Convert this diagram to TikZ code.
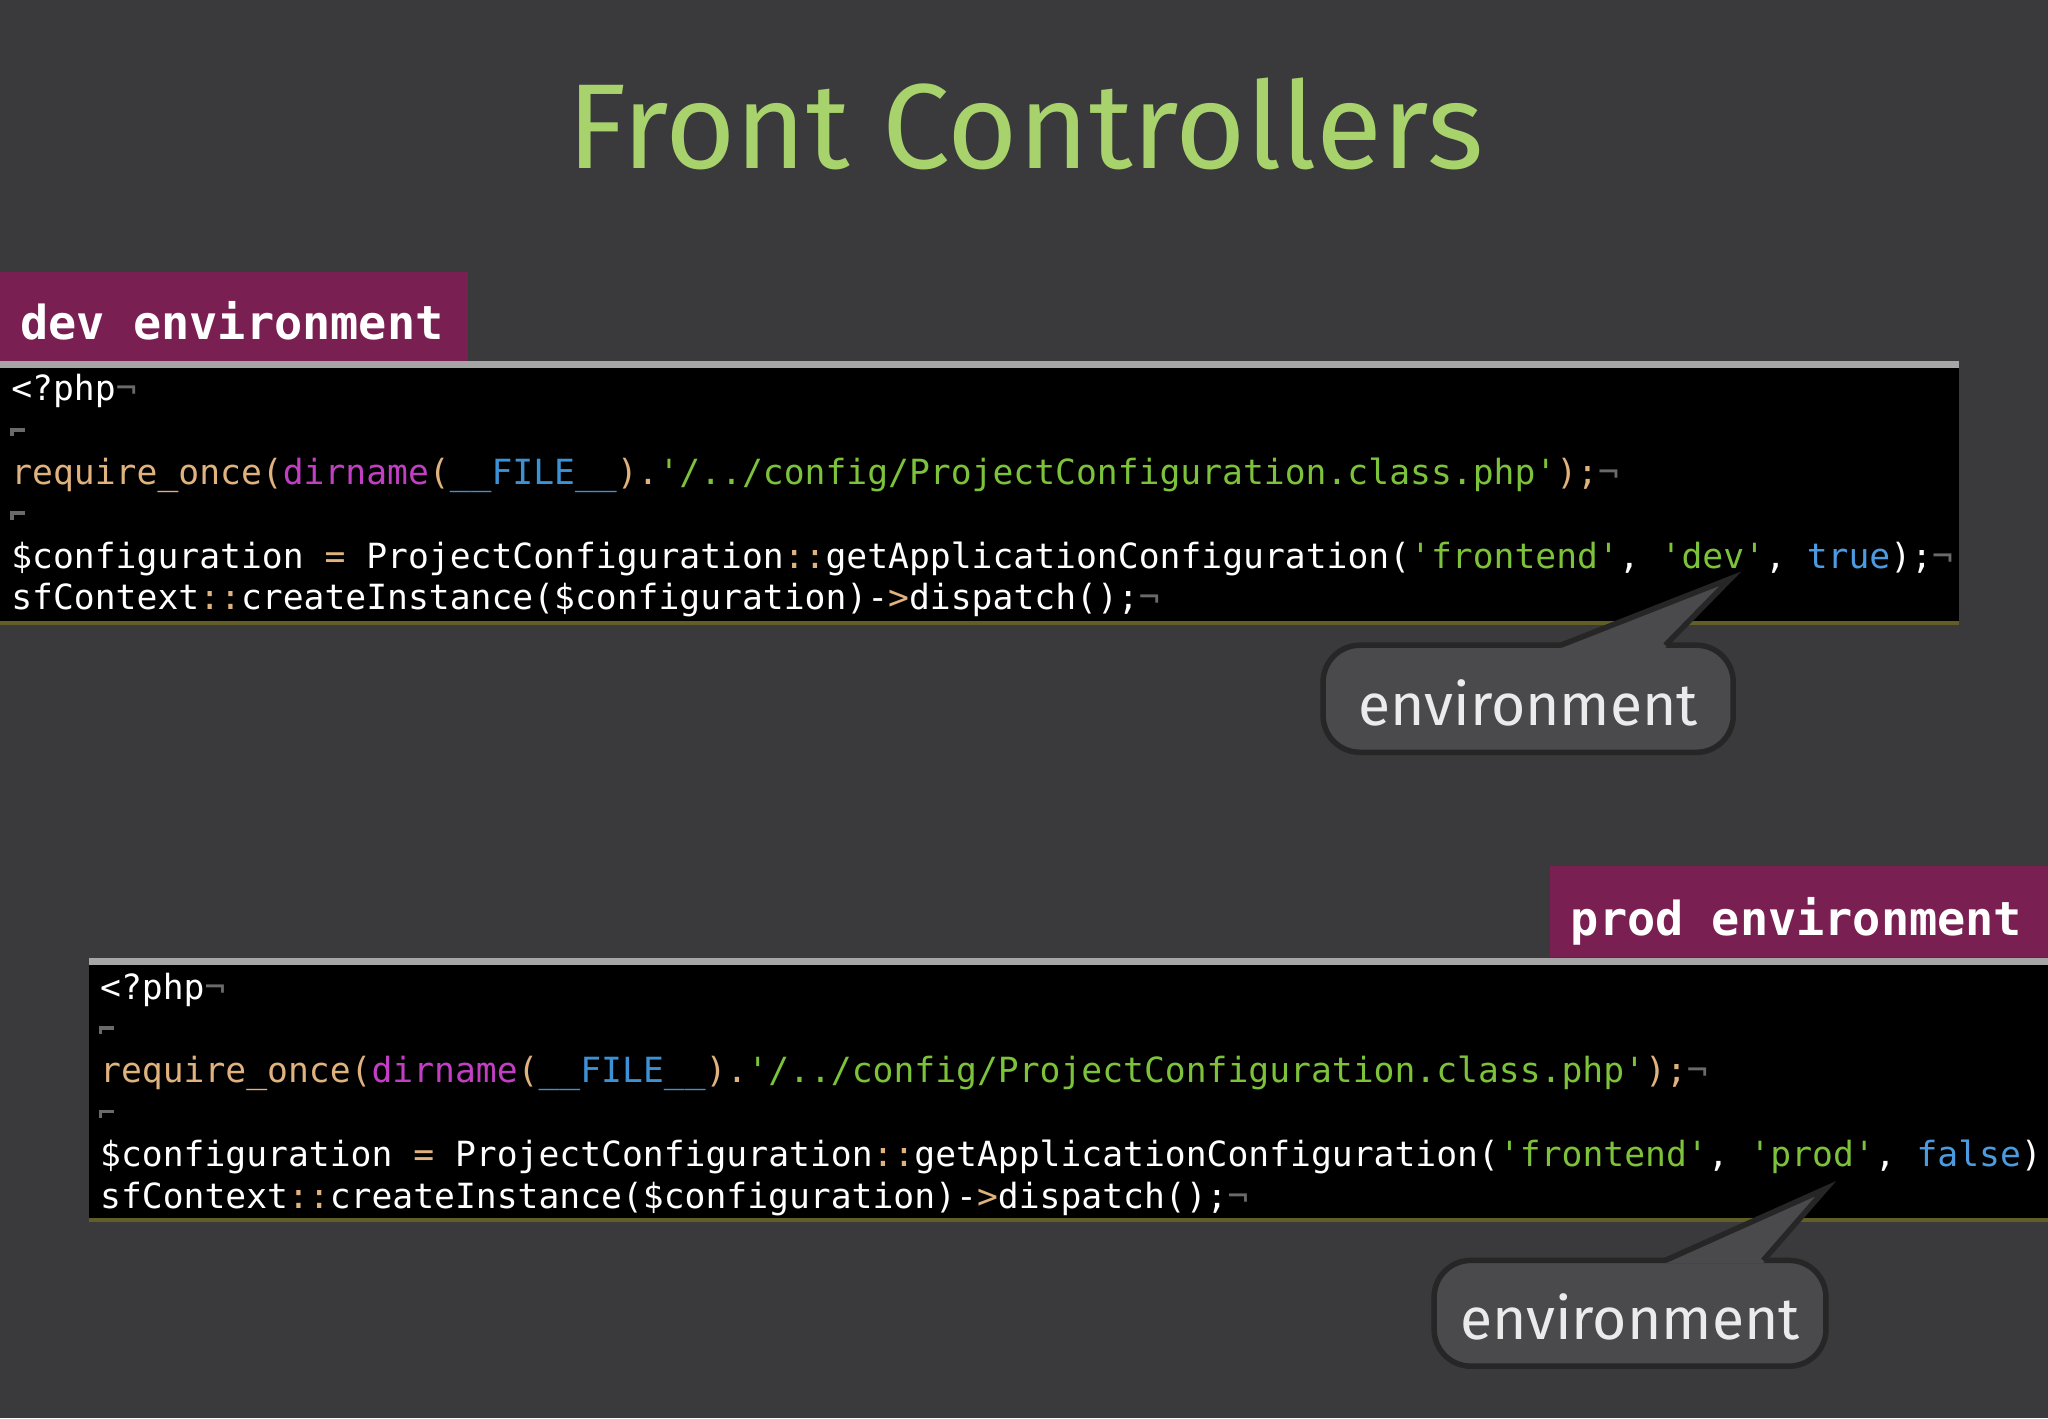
\documentclass[tikz,border=0pt]{standalone}
\usepackage{fontspec}
\setmainfont{Fira Sans}
\setmonofont{DejaVu Sans Mono}
\definecolor{bgc}{HTML}{3A3A3C}
\definecolor{titlec}{HTML}{A8D26C}
\definecolor{tagc}{HTML}{7A1F52}
\definecolor{kwc}{HTML}{E0B27E}
\definecolor{fnc}{HTML}{C23FC4}
\definecolor{cnc}{HTML}{3C92D6}
\definecolor{stc}{HTML}{7CC23A}
\definecolor{blc}{HTML}{4C9BE0}
\definecolor{markc}{HTML}{6A6A6A}
\definecolor{calloutc}{HTML}{4A4A4D}
\newcommand{\kw}[1]{\textcolor{kwc}{#1}}
\newcommand{\fn}[1]{\textcolor{fnc}{#1}}
\newcommand{\cn}[1]{\textcolor{cnc}{#1}}
\newcommand{\st}[1]{\textcolor{stc}{#1}}
\newcommand{\bl}[1]{\textcolor{blc}{#1}}
\newcommand{\eol}{\textcolor{markc}{¬}}
\begin{document}
\begin{tikzpicture}[x=0.01cm, y=-0.01cm,
    tag/.style={fill=tagc, text=white, font=\ttfamily\bfseries\fontsize{10.2}{12}\selectfont, inner sep=0pt, anchor=base west},
    codebox/.style={fill=black},
    codeline/.style={text=white, font=\ttfamily\fontsize{7.55}{9}\selectfont, inner sep=0pt, anchor=base west},
    callout/.style={fill=calloutc, draw=black!85, line width=1.2pt, rounded corners=8pt},
    callouttext/.style={text=white!92!black, font=\fontsize{12.8}{15}\selectfont}]
  \fill[bgc] (0,0) rectangle (1568,1086);
  \useasboundingbox (0,0) rectangle (1568,1086);
  \node[text=titlec, font=\fontsize{26.3}{32}\selectfont] (title) at (785,95) {Front Controllers};
  % dev environment
  \fill[tagc] (0,208) rectangle (358,277);
  \node[tag] (devtag) at (15,260) {dev environment};
  \fill[codebox] (0,278) rectangle (1500,478);
  \draw[gray!70, line width=1.5pt] (0,279) -- (1500,279);
  \draw[olive!60!black, line width=1pt] (0,477) -- (1500,477);
  \node[codeline] (d1) at (8,307) {<?php\eol};
  \node[codeline] (d2) at (8,371) {\kw{require\_once(}\fn{dirname}\kw{(}\cn{\_\_FILE\_\_}\kw{).}\st{'/../config/ProjectConfiguration.class.php'}\kw{);}\eol};
  \node[codeline] (d3) at (8,435) {\$configuration \kw{=} ProjectConfiguration\kw{::}getApplicationConfiguration(\st{'frontend'}, \st{'dev'}, \bl{true});\eol};
  \node[codeline] (d4) at (8,467) {sfContext\kw{::}createInstance(\$configuration)-\kw{>}dispatch();\eol};
  \foreach \y in {329,393} \draw[markc, line width=0.8pt] (9,\y+5) -- (9,\y) -- (19,\y);
  % prod environment
  \fill[tagc] (1187,663) rectangle (1568,733);
  \node[tag] (prodtag) at (1202,716) {prod environment};
  \fill[codebox] (68,735) rectangle (1568,935);
  \draw[gray!70, line width=1.5pt] (68,736) -- (1568,736);
  \draw[olive!60!black, line width=1pt] (68,934) -- (1568,934);
  \node[codeline] (p1) at (76,765) {<?php\eol};
  \node[codeline] (p2) at (76,829) {\kw{require\_once(}\fn{dirname}\kw{(}\cn{\_\_FILE\_\_}\kw{).}\st{'/../config/ProjectConfiguration.class.php'}\kw{);}\eol};
  \node[codeline] (p3) at (76,893) {\$configuration \kw{=} ProjectConfiguration\kw{::}getApplicationConfiguration(\st{'frontend'}, \st{'prod'}, \bl{false});\eol};
  \node[codeline] (p4) at (76,925) {sfContext\kw{::}createInstance(\$configuration)-\kw{>}dispatch();\eol};
  \foreach \y in {787,851} \draw[markc, line width=0.8pt] (77,\y+5) -- (77,\y) -- (87,\y);
  \useasboundingbox (0,0) rectangle (1568,1086);
  % callouts
  \draw[callout] (1013,494) rectangle (1327,576);
  \fill[calloutc] (1195,496) -- (1325,443) -- (1275,496) -- cycle;
  \draw[black!85, line width=1.2pt] (1195,494) -- (1325,443) -- (1275,494);
  \node[callouttext] (devnote) at (1170,538) {environment};
  \draw[callout] (1098,965) rectangle (1398,1046);
  \fill[calloutc] (1275,967) -- (1398,910) -- (1350,967) -- cycle;
  \draw[black!85, line width=1.2pt] (1275,965) -- (1398,910) -- (1350,965);
  \node[callouttext] (prodnote) at (1248,1008) {environment};
\end{tikzpicture}
\end{document}
